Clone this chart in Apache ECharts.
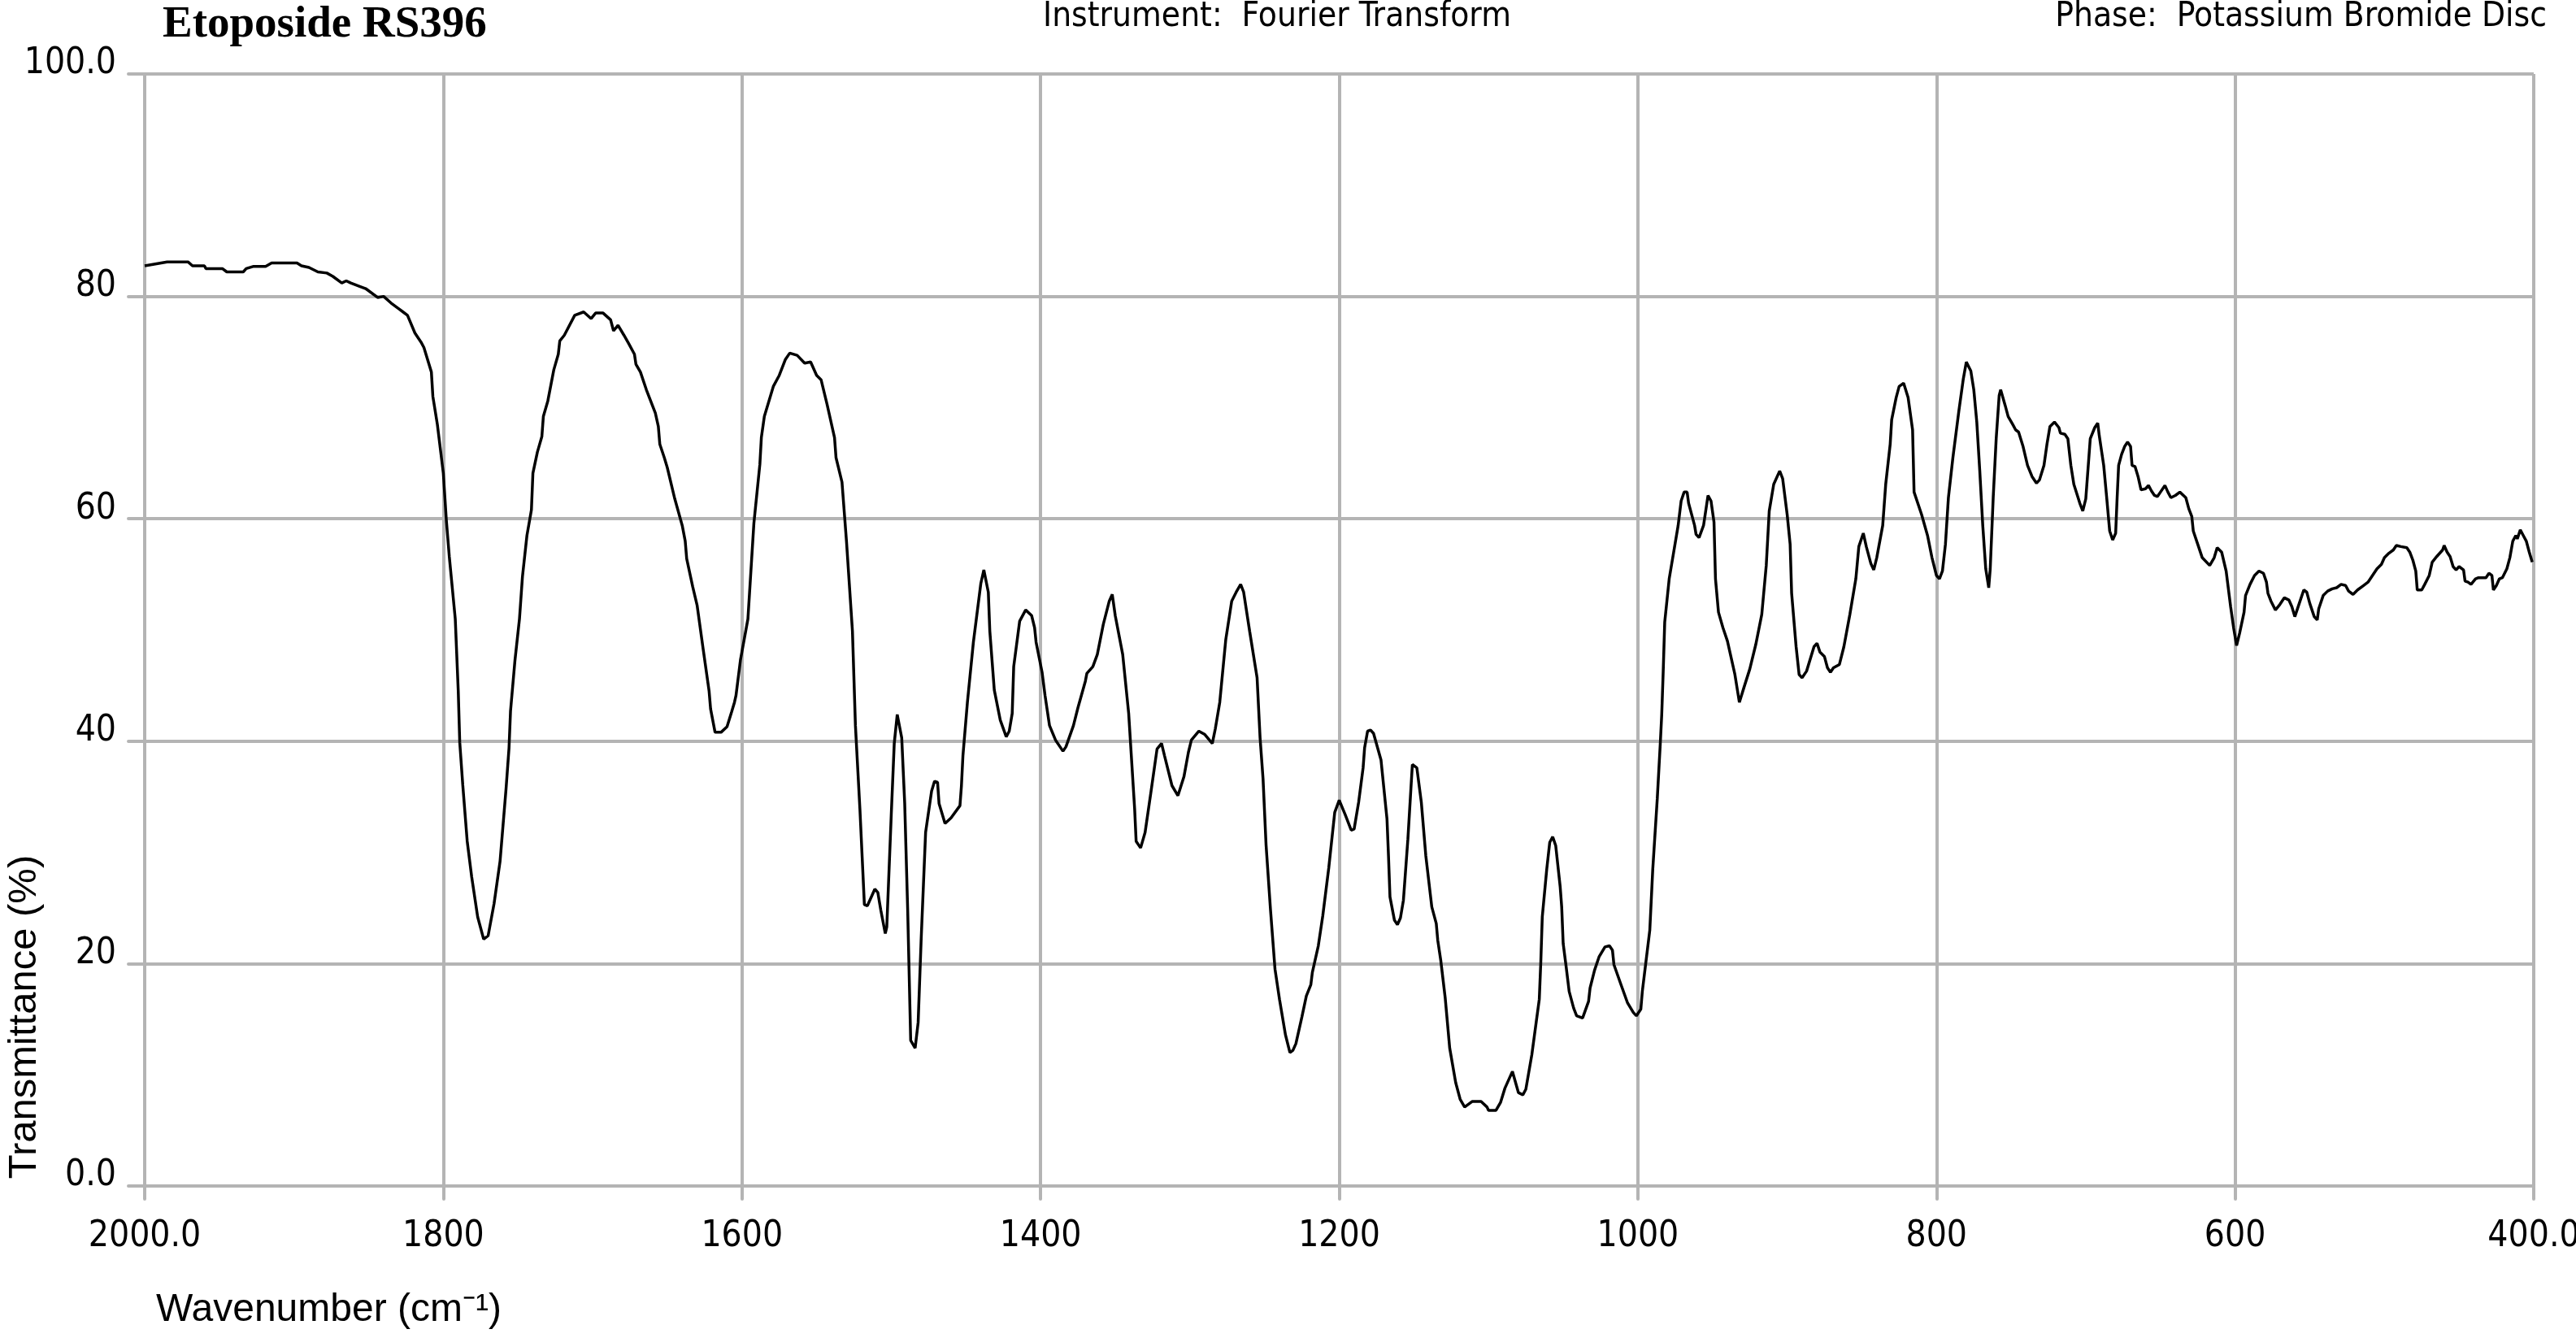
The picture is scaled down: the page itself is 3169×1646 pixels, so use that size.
<!DOCTYPE html>
<html><head><meta charset="utf-8">
<script src="https://cdn.jsdelivr.net/npm/echarts@6/dist/echarts.min.js"></script>
<style>html,body{margin:0;padding:0;background:#fff}#chart{width:3169px;height:1646px}</style>
</head><body><div id="chart"></div>
<script>
const titleText = 'Etoposide RS396';
const instrumentText = 'Instrument:  Fourier Transform';
const phaseText = 'Phase:  Potassium Bromide Disc';
const xAxisTitle = 'Wavenumber (cm\u207B\u00B9)';
const yAxisTitle = 'Transmittance (%)';
const xTickValues = [2000, 1800, 1600, 1400, 1200, 1000, 800, 600, 400];
const xTickLabels = ['2000.0', '1800', '1600', '1400', '1200', '1000', '800', '600', '400.0'];
const yTickValues = [0, 20, 40, 60, 80, 100];
const yTickLabels = ['0.0', '20', '40', '60', '80', '100.0'];

const wavenumber = [
2000,1985,1971,1968,1960,1959,1948,1945,1934,1932,1927,1919,1915,1898,1895,1890,1884,1878,1874,1868,1865,1862,1856,1852,1844,1840,1835,1830,1827,1824,1819,1815,1813,1808,1807,1804,1800,1798,1796,1792,1790,1789,1787,1784,1781,1777,1773,1770,1766,1762,1758,1756,1755,1752,1749,1747,1744,1741,1740,1737,1734,1733,1730,1726,1723,1722,1719,1712,1706,1701,1698,1693,1688,1686,1683,1679,1676,1672,1671,1668,1664,1658,1656,1655,1652,1650,1645,1640,1638,1637,1633,1630,1626,1622,1621,1618,1614,1610,1607,
1605,1604,1601,1596,1592,1588,1587,1585,1579,1575,1571,1568,1563,1558,1554,1550,1547,1543,1538,1537,1533,1530,1526,1524,1521,1518,1516,1511,1509,1507,1504,1503,1500,1498,1496,1493,1491,1489,1487,1484,1482,1480,1477,1473,1471,1469,1468,1464,1460,1454,1453,1452,1449,1445,1440,1438,1435,1434,1431,1427,1423,1421,1419,1418,1414,1410,1406,1404,1403,1399,1397,1394,1390,1387,1385,1383,1378,1375,1370,1369,1365,1362,1358,1354,1352,1350,1345,1341,1337,1336,1333,1330,1326,1322,1319,1317,1312,1308,1304,1301,1299,1294,1290,1285,1283,1280,1276,1272,1269,1266,1264,1260,1255,1253,1251,1249,1246,1243,1240,1236,1233,1231,1229,1225,1222,1219,1218,1214,1211,1207,1203,1200,
1196,1192,1190,1187,1184,1183,1181,1179,1177,1172,1168,1167,1166,1163,1161,1159,1157,1154,1152,1151,1148,1145,1142,1138,1135,1134,1132,1129,1126,1122,1119,1116,1111,1105,1101,1100,1095,1092,1089,1084,1080,1077,1075,1071,1068,1066,1065,1064,1061,1059,1057,1055,1052,1051,1050,1048,1046,1043,1041,1037,1033,1032,1029,1026,1022,1019,1017,1016,1011,1007,1003,1001,998,997,995,992,990,987,985,
984,983,982,979,976,973,971,969,967,966,962,961,959,956,953,951,949,948,946,943,940,935,932,929,925,921,917,914,912,909,905,903,900,898,897,894,892,890,887,882,880,878,875,873,871,869,865,862,858,854,852,849,847,844,842,840,836,834,831,830,827,825,822,819,816,815,810,806,803,800,798,796,794,792,789,785,782,780,777,775,773,771,769,767,765,764,762,760,758,757,754,752,749,747,745,742,739,736,733,731,728,726,724,721,718,717,714,712,710,708,704,702,700,697,694,692,691,688,686,684,682,680,679,678,676,674,672,670,669,667,665,663,660,658,656,654,652,650,647,645,643,640,637,633,631,629,628,625,622,617,614,612,609,606,603,601,599,597,594,593,590,587,584,581,579,578,576,573,570,567,564,562,560,557,554,552,550,547,545,544,541,538,535,532,529,526,524,521,518,514,511,508,505,502,500,497,494,492,489,485,483,481,479,478,475,473,470,468,465,461,460,458,456,454,452,450,447,446,444,442,439,437,432,430,428,427,425,423,421,418,416,414,412,411,409,407,405,403,401
];
const transmittance = [
82.75,83.1,83.1,82.75,82.75,82.5,82.5,82.2,82.2,82.5,82.7,82.7,83.0,83.0,82.75,82.6,82.2,82.1,81.8,81.2,81.4,81.2,80.9,80.7,79.9,80.0,79.4,78.9,78.6,78.3,76.7,75.9,75.4,73.2,71.0,68.5,64.1,59.9,56.6,51.0,44.5,39.9,36.1,31.0,27.8,24.2,22.2,22.5,25.4,29.2,35.7,39.4,42.7,47.3,51.0,54.8,58.5,60.8,64.1,66.0,67.4,69.2,70.6,73.4,74.8,76.0,76.5,78.3,78.6,78.0,78.5,78.5,77.9,76.9,77.4,76.5,75.8,74.8,73.9,73.2,71.6,69.5,68.3,66.7,65.5,64.6,61.8,59.4,58.0,56.4,53.9,52.2,48.3,44.5,42.9,40.8,40.8,41.3,42.6,
43.5,44.1,47.3,51.0,59.6,64.9,67.3,69.2,71.9,72.9,74.3,74.9,74.7,74.0,74.1,72.9,72.5,70.3,67.3,65.5,63.3,58.0,49.9,41.4,33.9,25.3,25.2,26.7,26.4,24.8,22.7,23.3,33.4,39.8,42.4,40.3,34.4,24.8,13.1,12.4,14.7,22.1,31.8,35.5,36.4,36.3,34.4,32.6,33.1,34.2,36.0,38.7,43.5,48.9,54.2,55.4,53.4,49.9,44.6,41.9,40.4,40.9,42.5,46.7,50.8,51.8,51.3,50.2,48.9,46.2,44.1,41.4,40.1,39.5,39.1,39.5,41.4,43.0,45.4,46.1,46.7,47.8,50.5,52.6,53.2,51.3,47.8,42.5,33.9,31.0,30.4,31.8,35.5,39.3,39.8,38.7,36.0,35.1,36.8,39.0,40.1,40.9,40.6,39.8,41.1,43.5,49.1,52.6,53.4,54.1,53.4,49.9,45.7,40.3,36.6,30.7,24.8,19.5,16.8,13.6,12.0,12.2,12.8,15.2,17.1,18.1,19.2,21.6,24.3,28.6,33.6,34.7,
33.4,32.0,32.1,34.5,37.6,39.4,40.9,41.0,40.7,38.3,33.0,29.7,26.0,23.9,23.5,24.1,25.7,31.2,35.7,37.9,37.6,34.5,29.7,25.1,23.6,22.1,20.3,16.9,12.4,9.3,7.8,7.1,7.6,7.6,7.1,6.8,6.8,7.5,8.8,10.3,8.4,8.2,8.7,11.8,14.8,16.8,20.1,24.2,28.5,30.9,31.4,30.6,26.9,25.1,21.8,19.7,17.5,16.0,15.3,15.1,16.6,17.8,19.4,20.6,21.5,21.6,21.2,19.9,18.0,16.5,15.6,15.3,15.9,17.5,19.7,23.0,28.5,34.8,39.7,
42.4,46.3,50.7,54.6,57.0,59.4,61.6,62.4,62.4,61.4,59.4,58.6,58.3,59.4,62.1,61.6,59.7,54.6,51.6,50.2,49.0,46.0,43.5,44.8,46.5,48.7,51.4,55.8,60.7,63.1,64.3,63.6,60.4,57.7,53.3,48.5,46.0,45.7,46.3,48.5,48.8,48.0,47.6,46.6,46.2,46.6,46.9,48.5,51.4,54.6,57.5,58.7,57.5,56.0,55.4,56.5,59.4,63.1,66.7,68.9,70.9,71.9,72.2,70.9,68.0,62.4,60.4,58.5,56.5,54.9,54.6,55.3,57.7,61.9,65.5,69.7,72.6,74.1,73.3,71.6,68.7,64.3,59.4,55.5,53.8,55.5,61.9,67.2,71.1,71.6,70.2,69.2,68.5,68.0,67.8,66.5,64.8,63.8,63.2,63.5,64.8,66.7,68.3,68.7,68.2,67.7,67.6,67.2,64.8,63.1,61.4,60.7,61.8,67.2,68.2,68.6,67.5,64.8,61.9,58.9,58.1,58.7,61.9,64.8,65.8,66.5,66.9,66.5,64.8,64.7,63.8,62.6,62.7,63.0,62.5,62.1,62.0,62.4,63.0,62.4,61.9,62.1,62.4,61.9,60.9,60.2,58.9,57.7,56.5,55.8,56.5,57.4,57.0,55.3,52.1,50.2,48.6,49.7,51.6,53.1,54.1,54.9,55.3,55.1,54.3,53.3,52.6,51.8,52.3,52.9,52.7,52.1,51.2,52.4,53.6,53.4,52.4,51.2,50.9,51.9,53.1,53.5,53.7,53.8,54.1,54.0,53.5,53.2,53.6,54.0,54.3,54.9,55.5,55.9,56.5,56.9,57.2,57.6,57.5,57.4,57.0,56.3,55.3,53.6,53.6,54.1,54.9,56.1,56.6,57.2,57.6,57.0,56.6,55.7,55.4,55.7,55.4,54.4,54.3,54.1,54.6,54.7,54.7,55.1,54.9,53.6,54.0,54.6,54.7,55.5,56.5,58.0,58.5,58.2,59.0,58.5,58.0,57.0,56.1
];

const NARROW = "'Liberation Sans Narrow','Arial Narrow','DejaVu Sans Condensed',sans-serif";
const SANS = "'Liberation Sans',Arial,sans-serif";
const GRID = '#b4b4b4';

const chart = echarts.init(document.getElementById('chart'), null, {renderer: 'canvas'});
chart.setOption({
  animation: false,
  backgroundColor: '#fff',
  title: [
    {text: titleText, left: 200, top: 3, padding: 0,
     textStyle: {fontFamily: "'Liberation Serif','Times New Roman',serif", fontWeight: 'bold', fontSize: 55, lineHeight: 56, color: '#000'}},
    {text: instrumentText, left: 1283, top: 3, padding: 0,
     textStyle: {fontFamily: NARROW, fontWeight: 'normal', fontSize: 42, lineHeight: 36, color: '#000'}},
    {text: phaseText, right: 36, top: 3, padding: 0,
     textStyle: {fontFamily: NARROW, fontWeight: 'normal', fontSize: 42, lineHeight: 36, color: '#000'}}
  ],
  grid: {left: 178, right: 52, top: 91, bottom: 187, containLabel: false, outerBoundsMode: 'none'},
  xAxis: {
    type: 'value', inverse: true, min: 400, max: 2000, interval: 200,
    axisLine: {show: true, onZero: false, lineStyle: {color: GRID, width: 4}},
    axisTick: {show: true, length: 16, lineStyle: {color: GRID, width: 4, cap: 'round'}},
    splitLine: {show: true, lineStyle: {color: GRID, width: 4}},
    axisLabel: {margin: 41, fontSize: 44, lineHeight: 44, fontFamily: NARROW, color: '#000',
      formatter: v => { const i = xTickValues.indexOf(v); return i >= 0 ? xTickLabels[i] : ''; }}
  },
  yAxis: {
    type: 'value', min: 0, max: 100, interval: 20,
    axisLine: {show: true, lineStyle: {color: GRID, width: 4}},
    axisTick: {show: true, length: 20, lineStyle: {color: GRID, width: 4, cap: 'round'}},
    splitLine: {show: true, lineStyle: {color: GRID, width: 4}},
    axisLabel: {margin: 35, fontSize: 44, lineHeight: 24, verticalAlign: 'bottom', fontFamily: NARROW, color: '#000',
      formatter: v => { const i = yTickValues.indexOf(v); return i >= 0 ? yTickLabels[i] : ''; }}
  },
  graphic: [
    {type: 'text', x: 30, y: 1251, rotation: Math.PI / 2,
     style: {text: yAxisTitle, font: '49px ' + SANS, fill: '#000', align: 'center', verticalAlign: 'middle', textAlign: 'center', textVerticalAlign: 'middle'}},
    {type: 'text', x: 192, y: 1612,
     style: {text: xAxisTitle, font: '48px ' + SANS, fill: '#000', align: 'left', verticalAlign: 'middle', textAlign: 'left', textVerticalAlign: 'middle'}}
  ],
  series: [{
    type: 'line',
    data: wavenumber.map((w, i) => [w, transmittance[i]]),
    showSymbol: false, symbol: 'none', silent: true,
    lineStyle: {color: '#000', width: 3.5}
  }]
});
</script></body></html>
